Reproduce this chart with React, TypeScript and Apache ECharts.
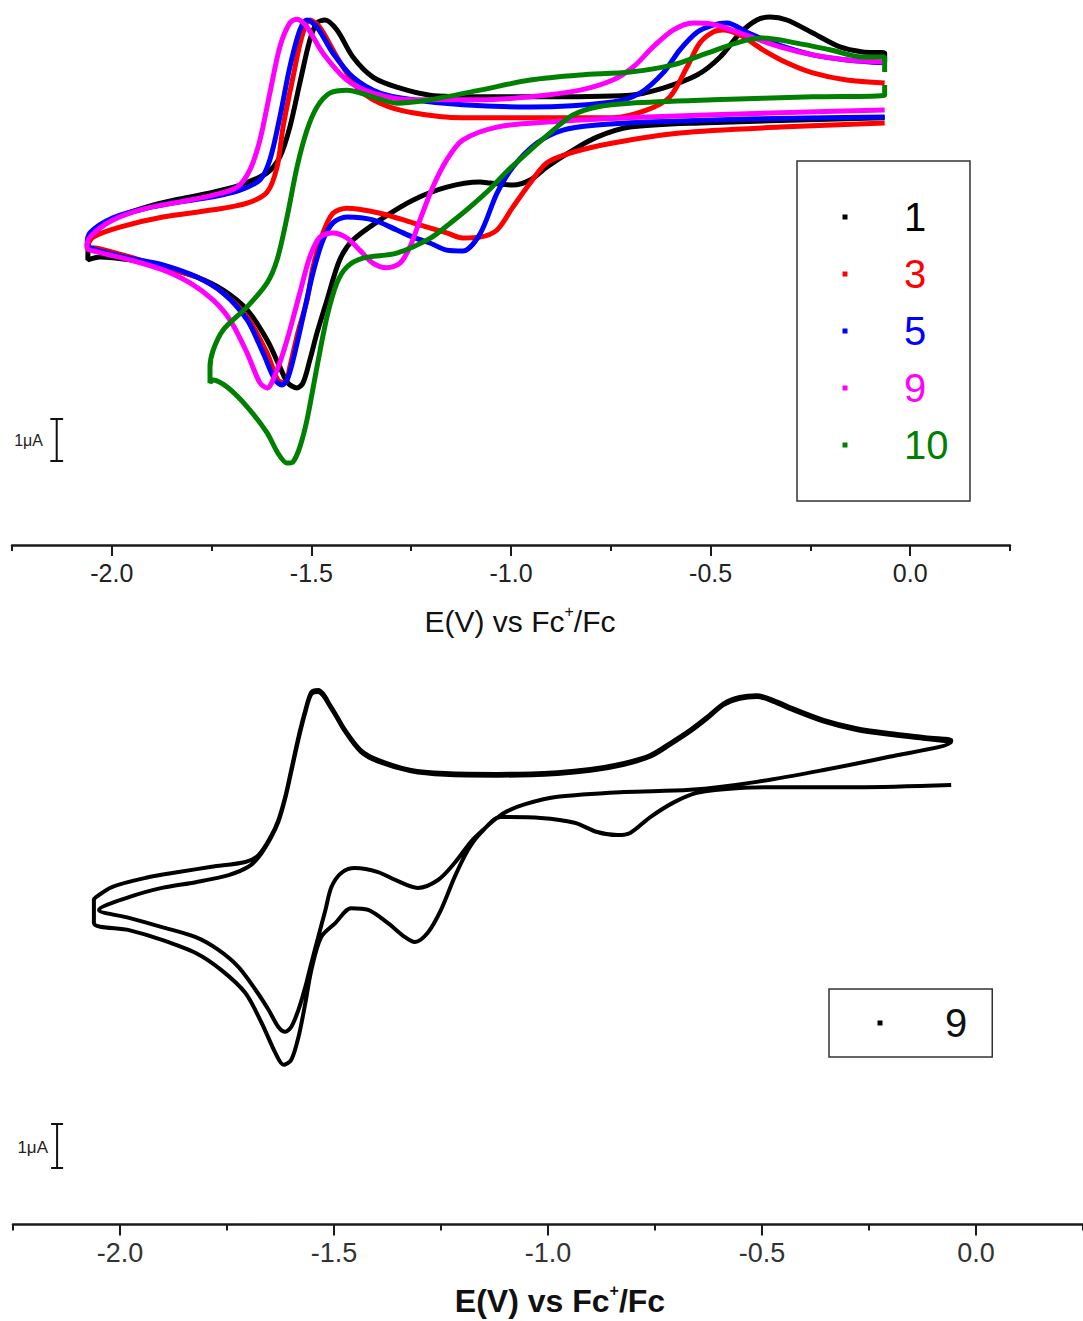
import React, { useEffect, useRef } from "react";
import * as echarts from "echarts";

// ---------- shared axis data ----------
const X_MIN = -2.25;
const X_MAX = 0.25;
const MAJOR_TICKS = [-2.0, -1.5, -1.0, -0.5, 0.0];
const MINOR_TICKS = [-2.25, -1.75, -1.25, -0.75, -0.25, 0.25];
const FONT = '"Liberation Sans", Arial, sans-serif';

// ---------- top panel data: [E (V vs Fc+/Fc), I (µA, arbitrary offset)] ----------
const topNames = ["1", "3", "5", "9", "10"];
const topColors = ["#000000", "#ff0000", "#0000ff", "#ff00ff", "#008000"];

const cv1 = [
  [-0.064, 10.17], [-0.527, 10.05], [-0.702, 9.95], [-0.785, 9.71], [-0.852, 9.36], [-0.910, 9.0],
  [-0.952, 8.69], [-0.995, 8.57], [-1.053, 8.62], [-1.078, 8.64], [-1.161, 8.52], [-1.246, 8.21],
  [-1.328, 7.74], [-1.396, 7.26], [-1.429, 6.79], [-1.461, 5.83], [-1.486, 5.05], [-1.504, 4.4],
  [-1.521, 3.86], [-1.536, 3.74], [-1.559, 3.86], [-1.579, 4.24], [-1.611, 4.88], [-1.661, 5.6],
  [-1.721, 6.07], [-1.787, 6.38], [-1.872, 6.62], [-1.955, 6.79], [-2.03, 6.86], [-2.06, 6.79],
  [-2.058, 7.2], [-2.03, 7.55], [-1.997, 7.76], [-1.912, 8.05], [-1.829, 8.24], [-1.746, 8.4],
  [-1.679, 8.57], [-1.611, 8.86], [-1.579, 9.24], [-1.554, 9.95], [-1.529, 11.0], [-1.504, 12.02],
  [-1.486, 12.43], [-1.466, 12.5], [-1.436, 12.26], [-1.396, 11.62], [-1.346, 11.14], [-1.286, 10.9],
  [-1.203, 10.71], [-1.078, 10.67], [-0.952, 10.67], [-0.702, 10.71], [-0.619, 10.88], [-0.534, 11.19],
  [-0.476, 11.62], [-0.426, 12.19], [-0.384, 12.5], [-0.351, 12.57], [-0.309, 12.5], [-0.244, 12.19],
  [-0.176, 11.86], [-0.119, 11.74], [-0.064, 11.71], [-0.064, 11.5],
];

const cv3 = [
  [-0.064, 10.05], [-0.326, 9.95], [-0.577, 9.81], [-0.745, 9.57], [-0.852, 9.33], [-0.91, 9.1],
  [-0.952, 8.62], [-0.995, 8.05], [-1.035, 7.5], [-1.078, 7.33], [-1.121, 7.31], [-1.161, 7.43],
  [-1.246, 7.67], [-1.328, 7.9], [-1.411, 8.02], [-1.446, 7.9], [-1.471, 7.43], [-1.496, 6.62],
  [-1.511, 5.83], [-1.534, 5.05], [-1.554, 4.24], [-1.566, 3.86], [-1.584, 3.93], [-1.611, 4.57],
  [-1.661, 5.43], [-1.721, 6.0], [-1.787, 6.38], [-1.872, 6.62], [-1.955, 6.86], [-2.037, 7.07],
  [-2.062, 7.1],
  [-2.047, 7.33], [-1.98, 7.57], [-1.872, 7.81], [-1.746, 7.98], [-1.661, 8.14], [-1.611, 8.4],
  [-1.586, 9.0], [-1.571, 9.95], [-1.546, 11.14], [-1.524, 12.1], [-1.504, 12.5], [-1.479, 12.33],
  [-1.436, 11.62], [-1.386, 10.9], [-1.328, 10.52], [-1.246, 10.29], [-1.121, 10.17], [-0.952, 10.17],
  [-0.745, 10.17], [-0.659, 10.36], [-0.602, 10.67], [-0.559, 11.38], [-0.527, 11.95], [-0.494, 12.21],
  [-0.469, 12.26], [-0.426, 12.14], [-0.369, 11.79], [-0.309, 11.48], [-0.244, 11.24], [-0.159, 11.07],
  [-0.064, 11.0],
];

const cv5 = [
  [-0.064, 10.19], [-0.409, 10.14], [-0.659, 10.07], [-0.785, 10.0], [-0.87, 9.88], [-0.935, 9.57],
  [-0.995, 9.0], [-1.035, 8.38], [-1.078, 7.4], [-1.121, 7.0], [-1.161, 7.02], [-1.203, 7.19],
  [-1.246, 7.33], [-1.286, 7.5], [-1.346, 7.74], [-1.411, 7.81], [-1.446, 7.67], [-1.471, 7.26],
  [-1.496, 6.48], [-1.521, 5.43], [-1.546, 4.4], [-1.561, 3.93], [-1.574, 3.81], [-1.591, 3.93],
  [-1.621, 4.57], [-1.661, 5.36], [-1.721, 6.0], [-1.787, 6.38], [-1.872, 6.67], [-1.955, 6.83],
  [-2.037, 7.02], [-2.062, 7.14],
  [-2.055, 7.43], [-1.997, 7.79], [-1.912, 8.02], [-1.829, 8.17], [-1.746, 8.29], [-1.679, 8.45],
  [-1.629, 8.69], [-1.604, 9.17], [-1.579, 10.19], [-1.554, 11.38], [-1.529, 12.26], [-1.511, 12.5],
  [-1.486, 12.33], [-1.446, 11.71], [-1.396, 11.14], [-1.328, 10.76], [-1.246, 10.6], [-1.121, 10.48],
  [-0.952, 10.43], [-0.745, 10.55], [-0.677, 10.76], [-0.619, 11.24], [-0.577, 11.79], [-0.534, 12.21],
  [-0.494, 12.38], [-0.459, 12.43], [-0.409, 12.21], [-0.343, 11.95], [-0.244, 11.67], [-0.159, 11.55],
  [-0.064, 11.48],
];

const cv9 = [
  [-0.064, 10.36], [-0.326, 10.29], [-0.659, 10.19], [-0.91, 10.07], [-1.035, 9.95], [-1.121, 9.64],
  [-1.161, 9.17], [-1.196, 8.52], [-1.228, 7.74], [-1.253, 7.1], [-1.278, 6.71], [-1.311, 6.6],
  [-1.346, 6.71], [-1.379, 7.02], [-1.411, 7.31], [-1.446, 7.43], [-1.479, 7.33], [-1.504, 6.86],
  [-1.529, 6.0], [-1.561, 4.88], [-1.586, 4.17], [-1.611, 3.74], [-1.629, 3.86], [-1.661, 4.57],
  [-1.704, 5.36], [-1.746, 5.83], [-1.804, 6.24], [-1.872, 6.55], [-1.955, 6.79], [-2.037, 6.98],
  [-2.062, 7.07],
  [-2.055, 7.33], [-1.997, 7.74], [-1.912, 8.02], [-1.829, 8.17], [-1.746, 8.33], [-1.686, 8.52],
  [-1.654, 8.93], [-1.629, 9.64], [-1.604, 10.76], [-1.579, 11.86], [-1.554, 12.43], [-1.536, 12.52],
  [-1.511, 12.33], [-1.471, 11.71], [-1.411, 11.07], [-1.346, 10.76], [-1.246, 10.6], [-1.078, 10.6],
  [-0.952, 10.67], [-0.827, 10.83], [-0.745, 11.07], [-0.694, 11.38], [-0.644, 11.86], [-0.594, 12.26],
  [-0.544, 12.43], [-0.494, 12.4], [-0.426, 12.19], [-0.326, 11.86], [-0.244, 11.67], [-0.159, 11.55],
  [-0.064, 11.5],
];

const cv10 = [
  [-0.064, 10.95], [-0.064, 10.71], [-0.244, 10.67], [-0.494, 10.6], [-0.702, 10.52], [-0.785, 10.43],
  [-0.845, 10.24], [-0.885, 9.95], [-0.952, 9.4], [-1.01, 8.9], [-1.05, 8.5], [-1.1, 8.07],
  [-1.15, 7.68], [-1.203, 7.3], [-1.286, 6.95], [-1.371, 6.83], [-1.411, 6.62], [-1.436, 6.24],
  [-1.461, 5.43], [-1.486, 4.24], [-1.511, 2.98], [-1.529, 2.33], [-1.546, 1.98], [-1.561, 1.95],
  [-1.584, 2.19], [-1.611, 2.67], [-1.661, 3.29], [-1.711, 3.76], [-1.746, 3.93], [-1.754, 3.86],
  [-1.754, 4.24], [-1.746, 4.64], [-1.721, 5.12], [-1.661, 5.67], [-1.611, 6.24], [-1.586, 6.79],
  [-1.561, 7.81], [-1.536, 9.0], [-1.511, 9.88], [-1.486, 10.43], [-1.454, 10.76], [-1.411, 10.83],
  [-1.346, 10.67], [-1.286, 10.52], [-1.203, 10.6], [-1.078, 10.83], [-0.952, 11.07], [-0.827, 11.19],
  [-0.702, 11.26], [-0.594, 11.43], [-0.509, 11.71], [-0.426, 11.98], [-0.369, 12.07], [-0.284, 11.95],
  [-0.201, 11.79], [-0.119, 11.62], [-0.064, 11.62], [-0.064, 11.26],
];

const topCurves = [cv1, cv3, cv5, cv9, cv10];
const topScaleBar = [[-2.154, 3.0], [-2.122, 3.0], [-2.138, 3.0], [-2.138, 2.0], [-2.154, 2.0], [-2.122, 2.0]];

// ---------- bottom panel data: compound 9, two successive cycles ----------
const bottomName = "9";
const c1Lower = [
  [-0.058, 9.99], [-0.279, 9.94], [-0.435, 9.94], [-0.552, 9.92], [-0.652, 9.81], [-0.705, 9.6],
  [-0.761, 9.26], [-0.808, 8.9], [-0.838, 8.85], [-0.885, 8.92], [-0.938, 9.13], [-1.017, 9.24],
  [-1.111, 9.26], [-1.157, 8.9], [-1.187, 8.51], [-1.218, 7.9], [-1.25, 7.15], [-1.281, 6.63],
  [-1.311, 6.42], [-1.334, 6.53], [-1.374, 6.85], [-1.42, 7.15], [-1.46, 7.19], [-1.497, 6.85],
  [-1.53, 6.53], [-1.553, 5.78], [-1.567, 5.03], [-1.583, 4.26], [-1.6, 3.74], [-1.618, 3.63],
  [-1.637, 3.9], [-1.669, 4.58], [-1.707, 5.26], [-1.763, 5.78], [-1.823, 6.17], [-1.902, 6.47],
  [-1.979, 6.69], [-2.061, 6.85],
];
const c1Upper = [
  [-2.061, 7.38], [-2.056, 7.44], [-2.019, 7.67], [-1.939, 7.88], [-1.863, 8.01], [-1.786, 8.13],
  [-1.707, 8.24], [-1.676, 8.4], [-1.648, 8.81], [-1.63, 9.19], [-1.614, 9.72], [-1.6, 10.33],
  [-1.583, 11.08], [-1.567, 11.69], [-1.553, 12.1], [-1.537, 12.15], [-1.506, 11.76], [-1.474, 11.24],
  [-1.437, 10.78], [-1.397, 10.56], [-1.32, 10.33], [-1.241, 10.26], [-1.118, 10.24], [-0.978, 10.28],
  [-0.901, 10.35], [-0.822, 10.49], [-0.761, 10.67], [-0.715, 10.94], [-0.668, 11.24], [-0.629, 11.53],
  [-0.589, 11.85], [-0.552, 11.99], [-0.512, 12.03], [-0.473, 11.92], [-0.435, 11.76], [-0.356, 11.47],
  [-0.279, 11.28], [-0.203, 11.17], [-0.123, 11.08], [-0.058, 11.01],
];
const c2Lower = [
  [-0.058, 10.97], [-0.203, 10.63], [-0.356, 10.33], [-0.512, 10.06], [-0.668, 9.88], [-0.822, 9.83],
  [-0.978, 9.72], [-1.055, 9.55], [-1.094, 9.4], [-1.118, 9.25], [-1.148, 9.0], [-1.18, 8.7],
  [-1.218, 8.22], [-1.257, 7.83], [-1.304, 7.65], [-1.357, 7.83], [-1.397, 8.01], [-1.451, 8.1],
  [-1.483, 7.99], [-1.506, 7.67], [-1.52, 7.15], [-1.537, 6.53], [-1.553, 5.94], [-1.567, 5.4],
  [-1.583, 4.88], [-1.6, 4.49], [-1.614, 4.38], [-1.63, 4.49], [-1.653, 4.88], [-1.683, 5.33],
  [-1.723, 5.85], [-1.77, 6.24], [-1.823, 6.53], [-1.902, 6.76], [-1.979, 6.97], [-2.049, 7.15],
];
const c2Upper = [
  [-1.979, 7.44], [-1.902, 7.65], [-1.823, 7.78], [-1.746, 7.94], [-1.7, 8.13], [-1.676, 8.35],
  [-1.648, 8.78], [-1.63, 9.15], [-1.614, 9.68], [-1.6, 10.28], [-1.583, 11.03], [-1.567, 11.64],
  [-1.553, 12.05], [-1.537, 12.1], [-1.506, 11.72], [-1.474, 11.2], [-1.437, 10.74], [-1.397, 10.52],
  [-1.32, 10.3], [-1.241, 10.22], [-1.118, 10.2], [-0.978, 10.24], [-0.901, 10.31], [-0.822, 10.45],
  [-0.761, 10.63], [-0.715, 10.9], [-0.668, 11.2], [-0.629, 11.49], [-0.589, 11.81], [-0.552, 11.95],
  [-0.512, 11.99], [-0.473, 11.88], [-0.435, 11.72], [-0.356, 11.43], [-0.279, 11.24], [-0.203, 11.13],
  [-0.123, 11.04], [-0.058, 10.97],
];
const bottomScaleBar = [[-2.161, 2.284], [-2.133, 2.284], [-2.147, 2.284], [-2.147, 1.284], [-2.161, 1.284], [-2.133, 1.284]];

// ---------- option builders ----------
function xAxes(labelSize: number, labelColor: string) {
  return [
    {
      type: "value", min: X_MIN, max: X_MAX, position: "bottom",
      axisLine: { show: true, onZero: false, lineStyle: { color: "#1a1a1a", width: 2.5 } },
      axisTick: { show: true, customValues: MAJOR_TICKS, length: 11, lineStyle: { color: "#1a1a1a", width: 2 } },
      axisLabel: {
        show: true, customValues: MAJOR_TICKS, margin: 15,
        formatter: (v: number) => v.toFixed(1),
        fontSize: labelSize, fontFamily: FONT, color: labelColor,
      },
      splitLine: { show: false },
    },
    {
      type: "value", min: X_MIN, max: X_MAX, position: "bottom",
      axisLine: { show: false, onZero: false },
      axisTick: { show: true, customValues: MINOR_TICKS, length: 6, lineStyle: { color: "#1a1a1a", width: 2 } },
      axisLabel: { show: false },
      splitLine: { show: false },
    },
  ];
}

function titleText(x: number, y: number, size: number, bold: boolean) {
  const weight = bold ? "bold" : "normal";
  return {
    type: "text", x, y, silent: true,
    style: {
      text: "{a|E(V) vs Fc}{s|+}{a|/Fc}",
      align: "center", verticalAlign: "middle", textAlign: "center", textVerticalAlign: "middle",
      rich: {
        a: { fontSize: size, fontFamily: FONT, fontWeight: weight, fill: "#111", color: "#111", lineHeight: size + 6 },
        s: { fontSize: 16, fontFamily: FONT, fontWeight: weight, fill: "#111", color: "#111", lineHeight: 18, verticalAlign: "top" },
      },
    },
  };
}

function scaleLabel(x: number, y: number, size: number) {
  return {
    type: "text", x, y, silent: true,
    style: {
      text: "1μA", align: "right", verticalAlign: "middle", textAlign: "right", textVerticalAlign: "middle",
      fontSize: size, fontFamily: FONT, fill: "#222",
    },
  };
}

function buildTop() {
  const series: any[] = topCurves.map((d, i) => ({
    name: topNames[i], type: "line", data: d, showSymbol: false, smooth: 0.3, silent: true,
    lineStyle: { color: topColors[i], width: 5 }, itemStyle: { color: topColors[i] }, z: 2 + i,
  }));
  series.push({
    name: "scale", type: "line", data: topScaleBar, showSymbol: false, silent: true,
    lineStyle: { color: "#111", width: 2 }, itemStyle: { color: "#111" },
  });
  return {
    animation: false,
    backgroundColor: "#ffffff",
    grid: { left: 12, top: 5, width: 998, height: 540, containLabel: false },
    xAxis: xAxes(25, "#222"),
    yAxis: { type: "value", min: 0, max: 540 / 42, show: false },
    legend: {
      orient: "vertical", left: 797, top: 161,
      padding: [36, 21.5, 36, 45.5],
      borderColor: "#333", borderWidth: 1.5,
      itemWidth: 5, itemHeight: 5, itemGap: 17, icon: "rect",
      selectedMode: false,
      textStyle: { fontFamily: FONT, fontSize: 40, lineHeight: 40, padding: [0, 0, 0, 51.5] },
      data: topNames.map((n, i) => ({ name: n, textStyle: { color: topColors[i] } })),
    },
    graphic: [scaleLabel(43, 440, 16), titleText(520, 621, 30, false)],
    series,
  };
}

function buildBottom() {
  return {
    animation: false,
    backgroundColor: "#ffffff",
    grid: { left: 13, top: 30, width: 1073.75, height: 544.5, containLabel: false },
    xAxis: xAxes(27, "#333"),
    yAxis: { type: "value", min: 0, max: 544.5 / 44, show: false },
    legend: {
      orient: "vertical", left: 829, top: 339,
      padding: [14, 25, 14, 48.5],
      borderColor: "#333", borderWidth: 1.5,
      itemWidth: 5, itemHeight: 5, itemGap: 10, icon: "rect",
      selectedMode: false,
      textStyle: { fontFamily: FONT, fontSize: 40, lineHeight: 40, padding: [0, 0, 0, 57.5], color: "#111" },
      data: [{ name: bottomName }],
    },
    graphic: [scaleLabel(48, 497, 17), titleText(560, 651, 32, true)],
    series: [
      {
        name: bottomName, type: "line", showSymbol: false, smooth: 0.3, silent: true,
        data: [...c1Lower, ...c1Upper, ...c2Lower, ...c2Upper],
        lineStyle: { color: "#000", width: 4 }, itemStyle: { color: "#000" },
      },
      {
        name: "scale", type: "line", data: bottomScaleBar, showSymbol: false, silent: true,
        lineStyle: { color: "#111", width: 2 }, itemStyle: { color: "#111" },
      },
    ],
  };
}

export default function App() {
  const topRef = useRef<HTMLDivElement>(null);
  const botRef = useRef<HTMLDivElement>(null);
  useEffect(() => {
    const top = echarts.init(topRef.current as HTMLDivElement, null, { renderer: "svg" });
    top.setOption(buildTop() as any);
    const bot = echarts.init(botRef.current as HTMLDivElement, null, { renderer: "svg" });
    bot.setOption(buildBottom() as any);
    return () => {
      top.dispose();
      bot.dispose();
    };
  }, []);
  return (
    <div style={{ position: "fixed", left: 0, top: 0, width: 1083, height: 1321, background: "#fff", overflow: "hidden" }}>
      <div ref={topRef} style={{ position: "absolute", left: 0, top: 0, width: 1083, height: 650 }} />
      <div ref={botRef} style={{ position: "absolute", left: 0, top: 650, width: 1083, height: 671 }} />
    </div>
  );
}
